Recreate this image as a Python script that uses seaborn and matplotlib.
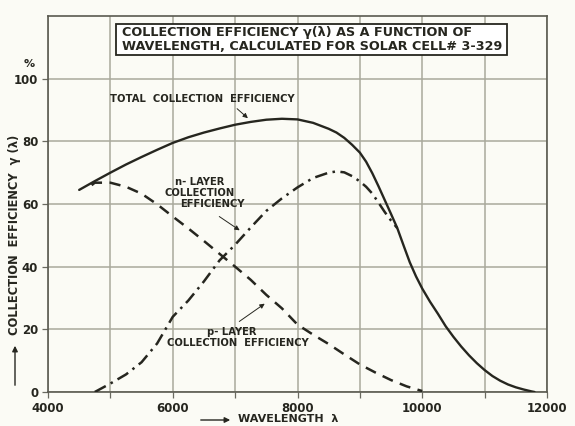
import matplotlib
matplotlib.use("Agg")
import matplotlib.pyplot as plt
from matplotlib.patches import Rectangle, FancyArrowPatch
import seaborn as sns
import pandas as pd

# ---- data ----
total_wl = [4500, 4750, 5000, 5250, 5500, 5750, 6000, 6250, 6500, 6750, 7000,
            7250, 7500, 7750, 8000, 8250, 8500, 8625, 8750, 8875, 9000, 9100,
            9200, 9300, 9400, 9500, 9600, 9700, 9800, 9900, 10000, 10125, 10250,
            10375, 10500, 10625, 10750, 10875, 11000, 11125, 11250, 11375, 11500,
            11625, 11750, 11800]
total_eff = [64.5, 67.3, 70.0, 72.6, 75.0, 77.3, 79.5, 81.3, 82.8, 84.1, 85.3,
             86.2, 86.9, 87.2, 87.0, 85.9, 84.0, 82.8, 81.1, 78.9, 76.4, 73.5,
             69.8, 65.6, 61.2, 56.8, 52.3, 46.8, 41.4, 36.9, 33.0, 28.8, 25.0,
             21.0, 17.6, 14.5, 11.7, 9.2, 7.0, 5.1, 3.6, 2.4, 1.5,
             0.8, 0.2, 0.0]

n_wl = [4700, 4750, 5000, 5250, 5500, 5750, 6000, 6250, 6500, 6750, 7000,
        7250, 7500, 7750, 8000, 8250, 8500, 8750, 9000, 9250, 9500, 9750, 10000]
n_eff = [66.0, 66.8, 66.8, 65.5, 63.3, 59.9, 56.0, 52.2, 48.2, 44.1, 40.0,
         35.8, 31.0, 26.7, 21.5, 18.3, 15.3, 12.0, 8.8, 6.2, 3.8, 1.8, 0.3]

p_wl = [4750, 5000, 5250, 5500, 5750, 6000, 6250, 6500, 6750, 7000, 7250,
        7500, 7750, 8000, 8250, 8500, 8625, 8750, 8875, 9000, 9100, 9200,
        9300, 9400, 9500, 9600]
p_eff = [0.0, 2.7, 5.6, 9.5, 15.5, 24.0, 29.2, 35.3, 42.0, 47.0, 52.5,
         57.8, 61.8, 65.3, 68.3, 70.0, 70.4, 70.1, 68.9, 67.2, 65.5, 63.3,
         60.4, 57.4, 54.7, 52.3]

x_ticks = [4000, 6000, 8000, 10000, 12000]
y_ticks = [0, 20, 40, 60, 80, 100]

title_lines = ["COLLECTION EFFICIENCY \u03b3(\u03bb) AS A FUNCTION OF",
               "WAVELENGTH, CALCULATED FOR SOLAR CELL# 3-329"]

# ---- styling ----
sns.set_style("white")
plt.rcParams['font.family'] = ['DejaVu Sans']

ink = '#26261f'
gridc = '#a9a99c'
bg = '#fbfbf5'

fig = plt.figure(figsize=(5.75, 4.26), dpi=100, facecolor=bg)
W, H = 575, 426
ax = fig.add_axes([48 / W, 1 - 392 / H, (547 - 48) / W, (392 - 16) / H])
ax.set_facecolor(bg)

df_t = pd.DataFrame({'wl': total_wl, 'eff': total_eff})
df_n = pd.DataFrame({'wl': n_wl, 'eff': n_eff})
df_p = pd.DataFrame({'wl': p_wl, 'eff': p_eff})

sns.lineplot(data=df_t, x='wl', y='eff', ax=ax, color=ink, lw=1.7, sort=False, zorder=4)
l2 = sns.lineplot(data=df_n, x='wl', y='eff', ax=ax, color=ink, lw=1.8, sort=False, zorder=4).lines[-1]
l2.set_dashes((4.5, 3.0))
l3 = sns.lineplot(data=df_p, x='wl', y='eff', ax=ax, color=ink, lw=1.8, sort=False, zorder=4).lines[-1]
l3.set_dashes((5.0, 2.2, 1.0, 2.2))

ax.set_xlim(4000, 12000)
ax.set_ylim(0, 120)
ax.set_xticks(x_ticks)
ax.set_xticks(range(4000, 12001, 1000), minor=True)
ax.set_yticks(y_ticks)
ax.set_xticklabels([str(v) for v in x_ticks], fontsize=8.5, fontweight='bold', color=ink)
ax.set_yticklabels([str(v) for v in y_ticks], fontsize=8.5, fontweight='bold', color=ink)
ax.tick_params(which='both', direction='out', length=4, width=0.9, color='#6a6a60',
               bottom=True, left=True, pad=3)
ax.grid(which='minor', axis='x', color=gridc, lw=1.1)
ax.grid(which='major', color=gridc, lw=1.1)
ax.set_axisbelow(True)
for s in ax.spines.values():
    s.set_color('#5a5a50')
    s.set_linewidth(1.2)
ax.set_xlabel('')
ax.set_ylabel('')

# title box
ax.add_patch(Rectangle((5090, 107.7), 6266, 9.9, facecolor='white', edgecolor=ink,
                       lw=1.3, zorder=5))
ax.text(5186, 114.7, title_lines[0], fontsize=9.2, fontweight='bold', color=ink,
        va='center', ha='left', zorder=6)
ax.text(5186, 110.2, title_lines[1], fontsize=9.2, fontweight='bold', color=ink,
        va='center', ha='left', zorder=6)

ann_kw = dict(fontsize=7.2, fontweight='bold', color=ink, ha='center', va='center', zorder=6)
arrow_kw = dict(arrowstyle='-|>', color=ink, lw=0.7, mutation_scale=7)

# TOTAL label
ax.text(6469, 93.5, 'TOTAL  COLLECTION  EFFICIENCY', **ann_kw)
ax.annotate('', xy=(7238, 86.8), xytext=(6998, 91.0), arrowprops=arrow_kw, zorder=6)

# n-layer label
ax.text(6437, 67.0, 'n- LAYER', **ann_kw)
ax.text(6437, 63.5, 'COLLECTION', **ann_kw)
ax.text(6629, 60.0, 'EFFICIENCY', **ann_kw)
ax.annotate('', xy=(7110, 51.1), xytext=(6709, 56.5), arrowprops=arrow_kw, zorder=6)

# p-layer label
ax.text(6950, 19.2, 'p- LAYER', **ann_kw)
ax.text(7046, 15.6, 'COLLECTION  EFFICIENCY', **ann_kw)
ax.annotate('', xy=(7511, 28.7), xytext=(7030, 22.0), arrowprops=arrow_kw, zorder=6)

# axis labels drawn in figure pixel positions
fig.text(15 / W, 1 - 235 / H, 'COLLECTION  EFFICIENCY  \u03b3 (\u03bb)', rotation=90,
         fontsize=8.3, fontweight='bold', color=ink, ha='center', va='center')
fig.add_artist(FancyArrowPatch((15 / W, 1 - 388 / H), (15 / W, 1 - 343 / H),
               transform=fig.transFigure, arrowstyle='-|>', mutation_scale=8,
               color=ink, lw=1.0))
fig.text(29 / W, 1 - 64 / H, '%', fontsize=8, fontweight='bold', color=ink,
         ha='center', va='center')
fig.text(238 / W, 1 - 419 / H, 'WAVELENGTH  \u03bb', fontsize=8, fontweight='bold',
         color=ink, ha='left', va='center')
fig.add_artist(FancyArrowPatch((198 / W, 1 - 420 / H), (233 / W, 1 - 420 / H),
               transform=fig.transFigure, arrowstyle='-|>', mutation_scale=8,
               color=ink, lw=1.0))

fig.savefig('out.png', dpi=100, facecolor=bg)
